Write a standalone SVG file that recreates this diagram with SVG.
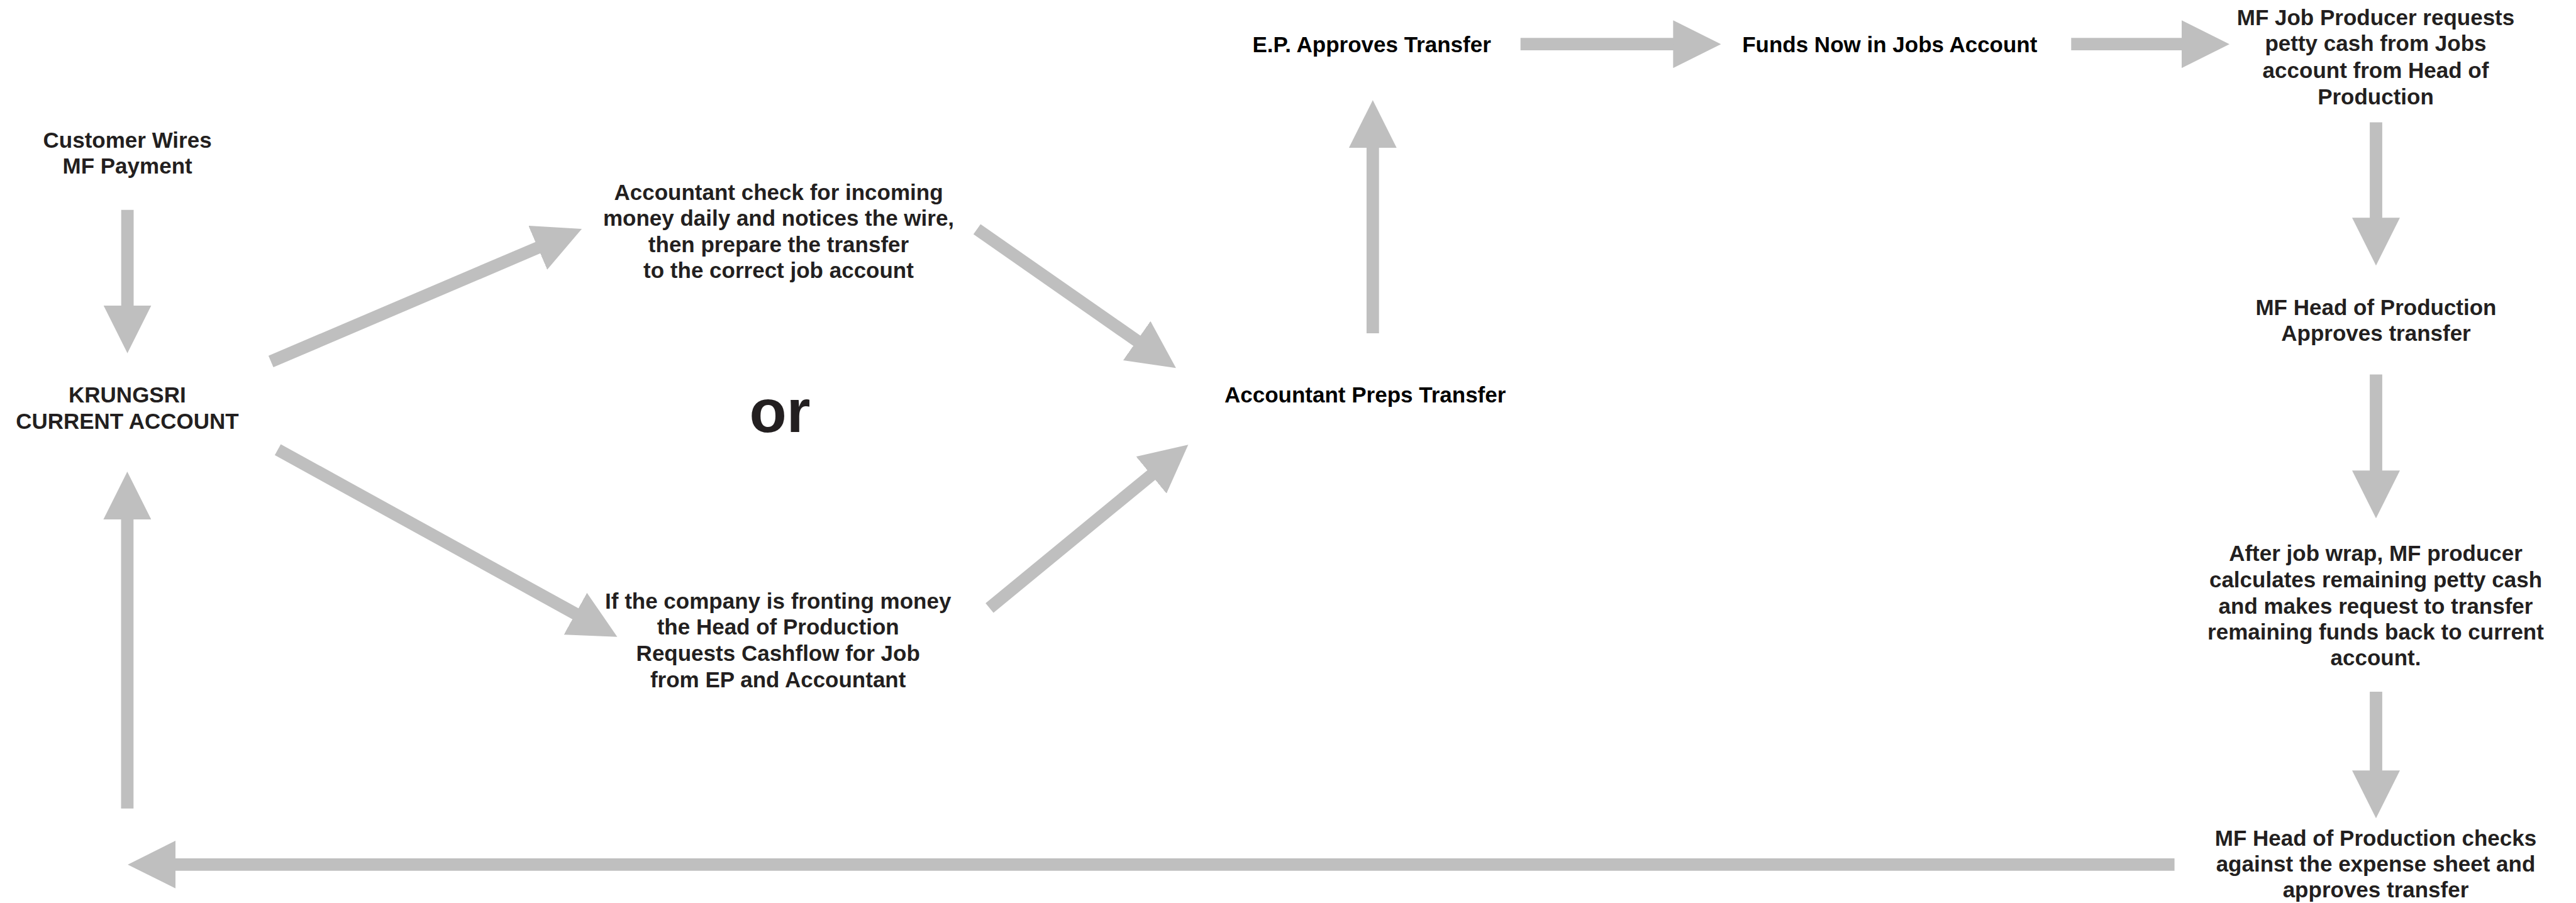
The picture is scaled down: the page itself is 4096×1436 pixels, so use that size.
<svg xmlns="http://www.w3.org/2000/svg" width="4096" height="1436" viewBox="0 0 4096 1436">
<style>
.t{font-family:"Liberation Sans",Arial,Helvetica,sans-serif;font-weight:bold;font-size:35px;fill:#231f20;text-anchor:middle}
.k{fill:#000}
.or{font-size:97px}
.a{stroke:#bfbfbf;stroke-width:19.8;fill:none;stroke-linecap:butt;marker-end:url(#head)}
</style>
<defs>
<marker id="head" markerUnits="userSpaceOnUse" markerWidth="76" markerHeight="76" viewBox="0 0 76 76" refX="1" refY="38" orient="auto">
<path d="M0,0 L76,38 L0,76 Z" fill="#bfbfbf"/>
</marker>
</defs>
<rect width="4096" height="1436" fill="#fff"/>
<g id="connectors">
<line class="a" x1="202.6" y1="333.7" x2="202.6" y2="486.7"/>
<line class="a" x1="430.8" y1="574.9" x2="856.1" y2="393.5"/>
<line class="a" x1="441.7" y1="715.1" x2="915.8" y2="976.5"/>
<line class="a" x1="1553.5" y1="364.5" x2="1808.4" y2="542.4"/>
<line class="a" x1="1573.4" y1="966.8" x2="1831.4" y2="754.8"/>
<line class="a" x1="2182.8" y1="530" x2="2182.8" y2="234.2"/>
<line class="a" x1="2417.7" y1="70.2" x2="2661.4" y2="70.2"/>
<line class="a" x1="3293.3" y1="70.2" x2="3470" y2="70.2"/>
<line class="a" x1="3778" y1="194.4" x2="3778" y2="347.3"/>
<line class="a" x1="3778" y1="595.5" x2="3778" y2="749.2"/>
<line class="a" x1="3778" y1="1100" x2="3778" y2="1226.2"/>
<line class="a" x1="3457.6" y1="1374.9" x2="278.1" y2="1374.9"/>
<line class="a" x1="202.4" y1="1285.8" x2="202.4" y2="825.1"/>
</g>
<g id="customer-wires"><text class="t" x="202.6" y="235.2">Customer Wires<tspan x="202.6" y="276">MF Payment</tspan></text></g>
<g id="krungsri"><text class="t" x="202.4" y="640">KRUNGSRI<tspan x="202.4" y="681.5">CURRENT ACCOUNT</tspan></text></g>
<g id="accountant-check"><text class="t" x="1238" y="318">Accountant check for incoming<tspan x="1238" y="359.3">money daily and notices the wire,</tspan><tspan x="1238" y="400.6">then prepare the transfer</tspan><tspan x="1238" y="441.9">to the correct job account</tspan></text></g>
<g id="or"><text class="t or" x="1240" y="687">or</text></g>
<g id="fronting"><text class="t" x="1237.2" y="967.8">If the company is fronting money<tspan x="1237.2" y="1009.1">the Head of Production</tspan><tspan x="1237.2" y="1051.2">Requests Cashflow for Job</tspan><tspan x="1237.2" y="1093">from EP and Accountant</tspan></text></g>
<g id="preps"><text class="t k" x="2170.7" y="640">Accountant Preps Transfer</text></g>
<g id="ep-approves"><text class="t k" x="2181.1" y="82.6">E.P. Approves Transfer</text></g>
<g id="funds-now"><text class="t k" x="3004.8" y="82.6">Funds Now in Jobs Account</text></g>
<g id="job-producer"><text class="t" x="3777.5" y="39.8">MF Job Producer requests<tspan x="3777.5" y="81.1">petty cash from Jobs</tspan><tspan x="3777.5" y="123.6">account from Head of</tspan><tspan x="3777.5" y="165.9">Production</tspan></text></g>
<g id="hop-approves"><text class="t" x="3778" y="501.4">MF Head of Production<tspan x="3778" y="542.1">Approves transfer</tspan></text></g>
<g id="after-wrap"><text class="t" x="3777.5" y="892.1">After job wrap, MF producer<tspan x="3777.5" y="934">calculates remaining petty cash</tspan><tspan x="3777.5" y="975.7">and makes request to transfer</tspan><tspan x="3777.5" y="1017.2">remaining funds back to current</tspan><tspan x="3777.5" y="1058.4">account.</tspan></text></g>
<g id="hop-checks"><text class="t" x="3777.5" y="1344.9">MF Head of Production checks<tspan x="3777.5" y="1385.7">against the expense sheet and</tspan><tspan x="3777.5" y="1426.5">approves transfer</tspan></text></g>
</svg>
